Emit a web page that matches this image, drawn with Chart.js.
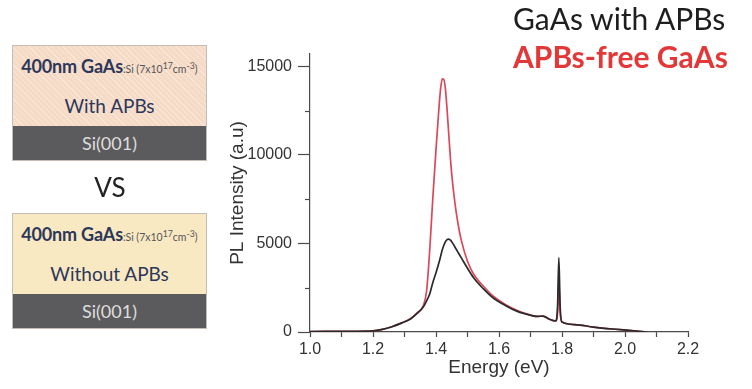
<!DOCTYPE html>
<html>
<head>
<meta charset="utf-8">
<script src="https://cdn.jsdelivr.net/npm/chart.js@4/dist/chart.umd.min.js"></script>
<style>
  html, body { margin: 0; padding: 0; background: #fff; }
  #wrap { position: relative; width: 752px; height: 389px; overflow: hidden; font-family: Lato, "Open Sans", sans-serif; }
  #plChart { position: absolute; left: 0; top: 0; }
  .stack { position: absolute; left: 12px; width: 195px; border: 1px solid #c4bdb5; box-sizing: border-box; }
  .layer { position: relative; height: 80px; text-align: center; color: #2c375a; }
  .stack.apb .layer { background: repeating-linear-gradient(45deg, #f5dac6 0px, #f5dac6 3px, #f9e6d6 3px, #f9e6d6 4px); }
  .stack.free .layer { background: #f9e9c3; }
  .layer .doping { position: absolute; left: 0; right: 0; top: 9px; font-weight: 700; font-size: 18px; white-space: nowrap; letter-spacing: -0.2px; }
  .layer .doping small { font-weight: 400; font-size: 10.5px; color: #555; letter-spacing: 0; }
  .layer .kind { position: absolute; left: 0; right: 0; top: 48px; font-size: 19px; }
  .sub { height: 34px; line-height: 34px; background: #5b5b5d; color: #dedede; text-align: center; font-size: 18px; }
  #vs { position: absolute; left: 0; width: 220px; top: 171px; text-align: center; font-size: 26px; color: #222; }
  .key { position: absolute; left: 513px; font-size: 30px; white-space: nowrap; }
</style>
</head>
<body>
<div id="wrap">
  <canvas id="plChart" width="752" height="389"></canvas>

  <div class="stack apb" style="top:45px;">
    <div class="layer">
      <div class="doping">400nm GaAs<small>:Si (7x10<sup>17</sup>cm<sup>-3</sup>)</small></div>
      <div class="kind">With APBs</div>
    </div>
    <div class="sub">Si(001)</div>
  </div>

  <div id="vs">VS</div>

  <div class="stack free" style="top:213px;">
    <div class="layer">
      <div class="doping">400nm GaAs<small>:Si (7x10<sup>17</sup>cm<sup>-3</sup>)</small></div>
      <div class="kind">Without APBs</div>
    </div>
    <div class="sub">Si(001)</div>
  </div>

  <div class="key" style="top:0px; color:#1e1e1e;">GaAs with APBs</div>
  <div class="key" style="top:38px; color:#e33838; font-weight:700;">APBs-free GaAs</div>
</div>

<script>
// photon energy (eV) shared by both spectra
const energy = [1.00, 1.05, 1.10, 1.15, 1.20, 1.23, 1.26, 1.29, 1.32, 1.34,
                1.36, 1.37, 1.38, 1.39, 1.40, 1.41, 1.415, 1.42, 1.425, 1.43,
                1.435, 1.44, 1.445, 1.45, 1.46, 1.47, 1.48, 1.50, 1.52, 1.55,
                1.58, 1.62, 1.66, 1.70, 1.72, 1.74, 1.76, 1.78, 1.786, 1.79,
                1.794, 1.80, 1.84, 1.90, 1.96, 2.02, 2.07];

// PL intensity, GaAs with antiphase boundaries
const withApbs = [20, 30, 40, 40, 60, 150, 300, 500, 750, 1050,
                  1420, 1750, 2150, 2800, 3350, 3950, 4300, 4650, 4900, 5100,
                  5220, 5250, 5200, 5100, 4800, 4500, 4200, 3600, 3050, 2450,
                  1950, 1500, 1150, 950, 880, 900, 720, 620, 1500, 4200,
                  1500, 560, 420, 280, 170, 80, 0];

// PL intensity, APB-free GaAs
const apbsFree = [20, 30, 40, 40, 60, 150, 300, 500, 760, 1080,
                  1500, 2300, 4600, 7600, 10300, 12800, 13800, 14300, 14250, 13700,
                  12600, 11300, 10000, 8900, 7300, 6100, 5200, 4000, 3250, 2600,
                  2050, 1550, 1200, 950, 880, 900, 720, 620, 1100, 2900,
                  1100, 560, 420, 280, 170, 80, 0];

const yMajor = [0, 5000, 10000, 15000];
const yMinor = [2500, 7500, 12500];

const axisColor = '#4a4a4a';
const labelFont = "'Liberation Sans', Arial, sans-serif";

const toPoints = vals => energy.map((e, i) => ({ x: e, y: vals[i] }));

// short unlabeled ticks between the major ones on the intensity axis
const minorTicks = {
    id: 'minorTicks',
    afterDraw(chart) {
        const { ctx, scales: { y } } = chart;
        ctx.save();
        ctx.strokeStyle = axisColor;
        ctx.lineWidth = 1.2;
        yMinor.forEach(v => {
            const py = Math.round(y.getPixelForValue(v)) + 0.5;
            ctx.beginPath();
            ctx.moveTo(y.right - 5, py);
            ctx.lineTo(y.right, py);
            ctx.stroke();
        });
        ctx.restore();
    }
};

new Chart(document.getElementById('plChart'), {
    type: 'line',
    data: {
        datasets: [{
            label: 'GaAs with APBs',
            data: toPoints(withApbs),
            borderColor: '#2a2a2a',
            borderWidth: 1.7,
            pointRadius: 0,
            cubicInterpolationMode: 'monotone'
        }, {
            label: 'APBs-free GaAs',
            data: toPoints(apbsFree),
            borderColor: 'rgba(214, 52, 72, 0.9)',
            borderWidth: 1.7,
            pointRadius: 0,
            cubicInterpolationMode: 'monotone'
        }]
    },
    options: {
        responsive: false,
        animation: false,
        devicePixelRatio: 1,
        layout: { padding: { left: 222, right: 64, top: 54, bottom: 6 } },
        plugins: {
            legend: { display: false },
            tooltip: { enabled: false }
        },
        scales: {
            x: {
                type: 'linear',
                min: 1.0,
                max: 2.2,
                afterFit: s => { s.height = 51; },
                border: { display: true, color: axisColor, width: 1.2 },
                grid: { drawOnChartArea: false, drawTicks: true, tickLength: 5, tickColor: axisColor, tickWidth: 1.2 },
                ticks: {
                    stepSize: 0.1,
                    autoSkip: false,
                    maxRotation: 0,
                    padding: 3,
                    color: '#333',
                    font: { family: labelFont, size: 16 },
                    callback: v => (Math.round(v * 10) % 2 === 0 ? v.toFixed(1) : '')
                },
                title: {
                    display: true,
                    text: 'Energy (eV)',
                    color: '#333',
                    font: { family: labelFont, size: 19 },
                    padding: { top: 0, bottom: 4 }
                }
            },
            y: {
                min: 0,
                max: 15700,
                afterFit: s => { s.width = 88; },
                afterBuildTicks: s => { s.ticks = yMajor.map(v => ({ value: v })); },
                border: { display: true, color: axisColor, width: 1.2 },
                grid: { drawOnChartArea: false, drawTicks: true, tickLength: 12, tickColor: axisColor, tickWidth: 1.2 },
                ticks: {
                    padding: 6,
                    color: '#333',
                    font: { family: labelFont, size: 16 },
                    callback: v => String(v)
                },
                title: {
                    display: true,
                    text: 'PL Intensity (a.u)',
                    color: '#333',
                    font: { family: labelFont, size: 19 },
                    padding: { top: 4, bottom: 0 }
                }
            }
        }
    },
    plugins: [minorTicks]
});
</script>
</body>
</html>
